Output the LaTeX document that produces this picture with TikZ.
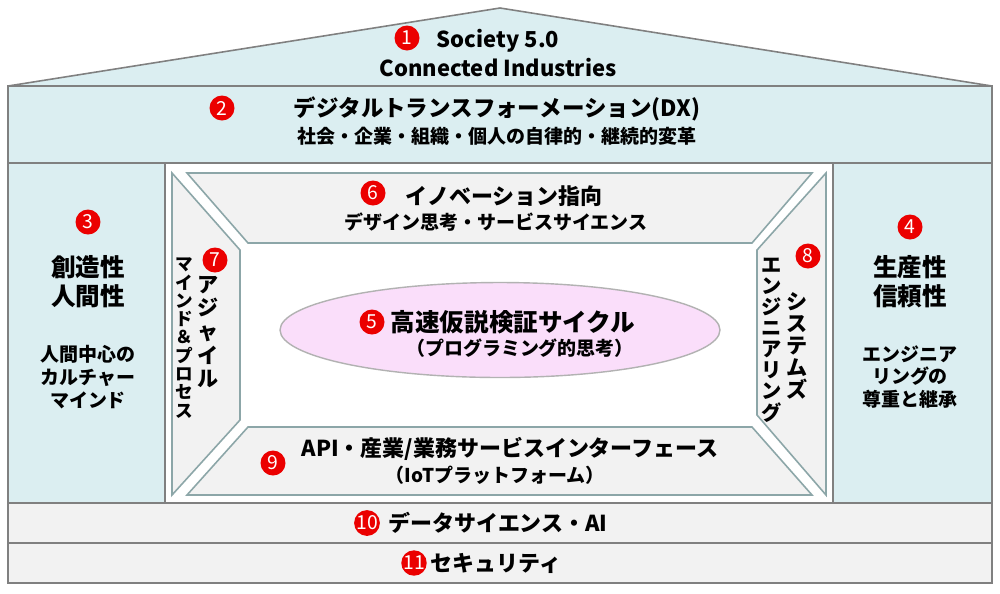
\documentclass[tikz,border=0pt]{standalone}
\usepackage{fontspec}
\setmainfont{Noto Sans CJK JP}
\usepackage{xcolor}
\definecolor{roofblue}{RGB}{219,238,241}
\definecolor{framegrey}{RGB}{128,128,128}
\definecolor{panelgrey}{RGB}{242,242,242}
\definecolor{edgeteal}{RGB}{140,166,168}
\definecolor{cyclepink}{RGB}{250,222,250}
\definecolor{markred}{RGB}{235,0,0}
\usetikzlibrary{shapes.geometric}

\tikzset{
  housebox/.style={draw=framegrey, fill=roofblue, line width=0.9pt},
  pillarbox/.style={draw=edgeteal, fill=panelgrey, line width=0.9pt},
  layerbox/.style={draw=framegrey, fill=panelgrey, line width=1.3pt},
  nummark/.style={circle, fill=markred, text=white, inner sep=0pt, minimum size=0.5cm, font=\fontsize{11}{11}\selectfont},
  headtext/.style={font=\bfseries\fontsize{12.5}{14}\selectfont, align=center, inner sep=0pt},
  subtext/.style={font=\bfseries\fontsize{10.8}{12}\selectfont, align=center, inner sep=0pt},
  pillartext/.style={font=\bfseries\fontsize{14}{16.5}\selectfont, align=center, inner sep=0pt},
  notetext/.style={font=\bfseries\fontsize{10.8}{13}\selectfont, align=center, inner sep=0pt}
}

\begin{document}
\begin{tikzpicture}[x=0.02cm, y=-0.02cm]
        \useasboundingbox (0,0) rectangle (1000,593);                            % Rahmen
        \fill[white] (0,0) rectangle (1000,593);
        \draw[housebox] (8,86) -- (500,8) -- (992,86) -- cycle;                  % Dach
        \draw[housebox] (8,86) rectangle (992,163);                              % DX-Band
        \draw[housebox] (8,163) rectangle (165,503);                             % linke Saeule
        \draw[housebox] (833,163) rectangle (992,503);                           % rechte Saeule
        \draw[framegrey, line width=0.9pt, fill=white] (165,163) rectangle (833,503); % Innenraum
        \draw[layerbox] (8,503) rectangle (992,543);                             % Datenband
        \draw[layerbox] (8,543) rectangle (992,583);                             % Sicherheitsband
        \draw[pillarbox] (187,173) -- (812,173) -- (752,243) -- (248,243) -- cycle; % oben
        \draw[pillarbox] (172,173) -- (240,250) -- (240,420) -- (172,495) -- cycle; % links
        \draw[pillarbox] (248,427) -- (752,427) -- (812,495) -- (187,495) -- cycle; % unten
        \draw[pillarbox] (826,173) -- (757,250) -- (757,415) -- (826,495) -- cycle; % rechts
        \node[ellipse, draw=black!30, fill=cyclepink, line width=0.8pt, minimum width=8.8cm, minimum height=1.9cm] (cycle) at (500,330) {}; % Zyklus
        % Dach
        \node[nummark] (m1) at (407,38) {1};
        \node[headtext] (society) at (498,41) {Society 5.0};
        \node[headtext] (industries) at (498,68) {Connected Industries};
        % DX
        \node[nummark] (m2) at (222,108) {2};
        \node[headtext, font=\bfseries\fontsize{12.8}{14}\selectfont] (dx) at (497,109) {デジタルトランスフォーメーション(DX)};
        \node[subtext] (dxsub) at (497,136) {社会・企業・組織・個人の自律的・継続的変革};
        % linke Saeule
        \node[nummark] (m3) at (88,222) {3};
        \node[pillartext] (creative) at (88,282) {創造性\\人間性};
        \node[notetext] (human) at (88,377) {人間中心の\\カルチャー\\マインド};
        % rechte Saeule
        \node[nummark] (m4) at (910,227) {4};
        \node[pillartext] (productive) at (910,282) {生産性\\信頼性};
        \node[notetext] (engineer) at (910,377) {エンジニア\\リングの\\尊重と継承};
        % Zyklus
        \node[nummark] (m5) at (372,322) {5};
        \node[headtext, font=\bfseries\fontsize{14}{16}\selectfont] (hypo) at (513,322) {高速仮説検証サイクル};
        \node[subtext] (prog) at (520,348) {（プログラミング的思考）};
        % oben
        \node[nummark] (m6) at (373,193) {6};
        \node[headtext] (innov) at (504,196) {イノベーション指向};
        \node[subtext] (design) at (496,222) {デザイン思考・サービスサイエンス};
        % links
        \node[nummark] (m7) at (215,260) {7};
        \node[headtext, font=\bfseries\fontsize{12}{13.5}\selectfont] (agile) at (208,332) {ア\\ジ\\ャ\\イ\\ル};
        \node[subtext, font=\bfseries\fontsize{10}{10.4}\selectfont] (process) at (184,338) {マ\\イ\\ン\\ド\\＆\\プ\\ロ\\セ\\ス};
        % rechts
        \node[nummark] (m8) at (808,256) {8};
        \node[headtext, font=\bfseries\fontsize{12}{12.5}\selectfont] (systems) at (797,346) {シ\\ス\\テ\\ム\\ズ};
        \node[headtext, font=\bfseries\fontsize{11.5}{12}\selectfont] (sysengi) at (772,340) {エ\\ン\\ジ\\ニ\\ア\\リ\\ン\\グ};
        % unten
        \node[nummark] (m9) at (273,463) {9};
        \node[headtext] (api) at (510,449) {API・産業/業務サービスインターフェース};
        \node[subtext] (iot) at (495,475) {（IoTプラットフォーム）};
        % Baender
        \node[nummark, minimum size=0.46cm] (m10) at (367,523) {10};
        \node[headtext] (datasci) at (498,523) {データサイエンス・AI};
        \node[nummark, minimum size=0.46cm] (m11) at (414,563) {11};
        \node[headtext] (security) at (496,563) {セキュリティ};
    \end{tikzpicture}
\end{document}
